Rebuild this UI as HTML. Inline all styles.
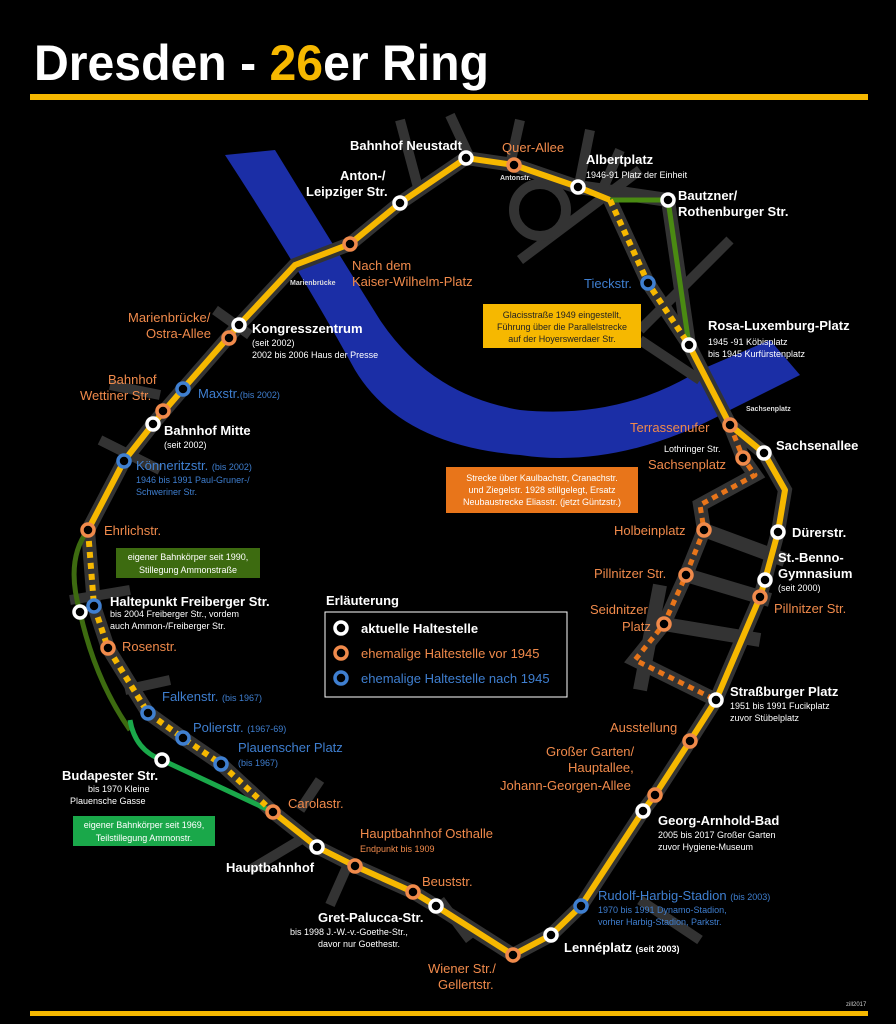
<!DOCTYPE html>
<html><head><meta charset="utf-8"><style>
html,body{margin:0;padding:0;background:#000;}
svg{display:block;font-family:"Liberation Sans",sans-serif;}
.w{fill:#fff;font-weight:bold;}
.o{fill:#f08a4b;}
.b{fill:#3f7fd0;}
.s{fill:#ddd;font-size:7px;font-weight:bold;}
</style></head><body>
<svg width="896" height="1024" viewBox="0 0 896 1024" xmlns="http://www.w3.org/2000/svg">
<rect width="896" height="1024" fill="#000"/>
<text x="34" y="80" font-size="50" font-weight="bold" fill="#fff" textLength="455" lengthAdjust="spacingAndGlyphs">Dresden - <tspan fill="#f6b800">26</tspan>er Ring</text>
<rect x="30" y="94" width="838" height="6" fill="#f6b800"/>
<rect x="30" y="1011" width="838" height="5" fill="#f6b800"/>
<text x="846" y="1006" font-size="6" fill="#ccc">zill2017</text>

<!-- river -->
<path d="M225,155 L275,150 Q330,240 380,320 Q430,395 520,410 Q620,420 700,370 L770,340 L800,375 L730,410 Q620,470 520,455 Q400,445 355,370 Q300,270 225,155 Z" fill="#1b2ea6"/>

<!-- streets -->
<g stroke="#333" stroke-width="14" fill="none" stroke-linecap="butt">
<path d="M466,158 L514,165 L578,187 L668,200 L689,345 L730,425 L764,453 L785,490 L778,532 L765,580 L760,597 L716,700 L690,741 L655,795 L643,811 L581,906 L551,935 L513,955 L436,906 L413,892 L355,866 L317,847 L273,812 L221,764 L183,738 L148,713 L108,648 L94,606 L88,530 L124,461 L153,424 L183,389 L239,325 L295,265 L350,244 L400,203 L466,158"/>
<path d="M610,200 L648,283 L689,345"/>
<path d="M730,425 L743,458 L755,475 L700,505 L704,530 L686,575 L664,624 L635,660 L716,700"/>
<path d="M704,530 L785,560 M686,575 L770,600 M664,624 L760,640 M660,585 L640,690"/>
</g>
<g stroke="#333" stroke-width="10">
<path d="M400,120 L420,195 M450,115 L470,158 M520,120 L510,165 M590,130 L578,190 M620,150 L600,195 M730,240 L640,330 M700,380 L640,340 M100,440 L160,470 M70,600 L130,590 M125,690 L170,680 M320,780 L300,810 M215,310 L250,335 M110,385 L160,395 M330,905 L350,860 M470,940 L440,900 M700,940 L640,900 M250,870 L300,840 M640,170 L520,260"/>
</g>
<circle cx="540" cy="210" r="26" fill="none" stroke="#333" stroke-width="10"/>

<!-- lines -->
<g fill="none" stroke-linejoin="round">
<path d="M273,812 L317,847 L355,866 L413,892 L436,906 L513,955 L551,935 L581,906 L643,811 L655,795 L690,741 L716,700 L760,597 L765,580 L778,532 L785,490 L764,453 L730,425 L689,345" stroke="#f6b800" stroke-width="6"/>
<path d="M88,530 L124,461 L153,424 L183,389 L239,325 L295,265 L350,244 L400,203 L466,158 L514,165 L578,187 L610,200" stroke="#f6b800" stroke-width="6"/>
<path d="M610,200 L668,200 L689,345" stroke="#4a8a12" stroke-width="5"/>
<path d="M610,200 L648,283 L689,345" stroke="#f6b800" stroke-width="6" stroke-dasharray="6,5"/>
<path d="M88,530 Q65,560 80,612 Q95,680 130,730" stroke="#3d6b10" stroke-width="5"/>
<path d="M130,720 Q135,750 162,760 L273,812" stroke="#1aa84a" stroke-width="5"/>
<path d="M88,530 L94,606 L108,648 L148,713 L183,738 L221,764 L273,812" stroke="#f6b800" stroke-width="6" stroke-dasharray="6,5"/>
<path d="M730,425 L743,458 L755,475 L700,505 L704,530 L686,575 L664,624 L635,660 L716,700" stroke="#e8751a" stroke-width="5" stroke-dasharray="6,5"/>
</g>

<!-- stations -->
<g stroke-width="3.5" fill="#000">
<g stroke="#fff">
<circle cx="466" cy="158" r="6"/><circle cx="578" cy="187" r="6"/><circle cx="400" cy="203" r="6"/><circle cx="668" cy="200" r="6"/>
<circle cx="689" cy="345" r="6"/><circle cx="239" cy="325" r="6"/><circle cx="153" cy="424" r="6"/><circle cx="764" cy="453" r="6"/>
<circle cx="778" cy="532" r="6"/><circle cx="765" cy="580" r="6"/><circle cx="80" cy="612" r="6"/><circle cx="716" cy="700" r="6"/>
<circle cx="162" cy="760" r="6"/><circle cx="643" cy="811" r="6"/><circle cx="317" cy="847" r="6"/><circle cx="436" cy="906" r="6"/>
<circle cx="551" cy="935" r="6"/>
</g>
<g stroke="#f08a4b">
<circle cx="514" cy="165" r="6"/><circle cx="350" cy="244" r="6"/><circle cx="229" cy="338" r="6"/><circle cx="163" cy="411" r="6"/>
<circle cx="88" cy="530" r="6"/><circle cx="730" cy="425" r="6"/><circle cx="743" cy="458" r="6"/><circle cx="704" cy="530" r="6"/>
<circle cx="686" cy="575" r="6"/><circle cx="760" cy="597" r="6"/><circle cx="664" cy="624" r="6"/><circle cx="108" cy="648" r="6"/>
<circle cx="690" cy="741" r="6"/><circle cx="655" cy="795" r="6"/><circle cx="273" cy="812" r="6"/><circle cx="355" cy="866" r="6"/>
<circle cx="413" cy="892" r="6"/><circle cx="513" cy="955" r="6"/>
</g>
<g stroke="#3f7fd0">
<circle cx="648" cy="283" r="6"/><circle cx="183" cy="389" r="6"/><circle cx="124" cy="461" r="6"/><circle cx="94" cy="606" r="6"/>
<circle cx="148" cy="713" r="6"/><circle cx="183" cy="738" r="6"/><circle cx="221" cy="764" r="6"/><circle cx="581" cy="906" r="6"/>
</g>
</g>

<!-- labels -->
<g font-size="13">
<text x="350" y="150" class="w">Bahnhof Neustadt</text>
<text x="502" y="152" class="o">Quer-Allee</text>
<text x="586" y="164" class="w">Albertplatz</text>
<text x="586" y="178" font-size="9" fill="#fff">1946-91 Platz der Einheit</text>
<text x="678" y="200" class="w">Bautzner/</text>
<text x="678" y="216" class="w">Rothenburger Str.</text>
<text x="340" y="180" class="w">Anton-/</text>
<text x="306" y="196" class="w">Leipziger Str.</text>
<text x="352" y="270" class="o">Nach dem</text>
<text x="352" y="286" class="o">Kaiser-Wilhelm-Platz</text>
<text x="584" y="288" class="b">Tieckstr.</text>
<text x="708" y="330" class="w">Rosa-Luxemburg-Platz</text>
<text x="708" y="345" font-size="9" fill="#fff">1945 -91 Köbisplatz</text>
<text x="708" y="357" font-size="9" fill="#fff">bis 1945 Kurfürstenplatz</text>
<text x="128" y="322" class="o">Marienbrücke/</text>
<text x="146" y="338" class="o">Ostra-Allee</text>
<text x="252" y="333" class="w">Kongresszentrum</text>
<text x="252" y="346" font-size="9" fill="#fff">(seit 2002)</text>
<text x="252" y="358" font-size="9" fill="#fff">2002 bis 2006 Haus der Presse</text>
<text x="108" y="384" class="o">Bahnhof</text>
<text x="80" y="400" class="o">Wettiner Str.</text>
<text x="198" y="398" class="b">Maxstr.<tspan font-size="9">(bis 2002)</tspan></text>
<text x="164" y="435" class="w">Bahnhof Mitte</text>
<text x="164" y="448" font-size="9" fill="#fff">(seit 2002)</text>
<text x="136" y="470" class="b">Könneritzstr. <tspan font-size="9">(bis 2002)</tspan></text>
<text x="136" y="483" font-size="9" fill="#3f7fd0">1946 bis 1991 Paul-Gruner-/</text>
<text x="136" y="495" font-size="9" fill="#3f7fd0">Schweriner Str.</text>
<text x="104" y="535" class="o">Ehrlichstr.</text>
<text x="110" y="606" class="w">Haltepunkt Freiberger Str.</text>
<text x="110" y="617" font-size="9" fill="#fff">bis 2004 Freiberger Str., vordem</text>
<text x="110" y="629" font-size="9" fill="#fff">auch Ammon-/Freiberger Str.</text>
<text x="122" y="651" class="o">Rosenstr.</text>
<text x="162" y="701" class="b">Falkenstr. <tspan font-size="9">(bis 1967)</tspan></text>
<text x="193" y="732" class="b">Polierstr. <tspan font-size="9">(1967-69)</tspan></text>
<text x="238" y="752" class="b">Plauenscher Platz</text>
<text x="238" y="766" font-size="9" fill="#3f7fd0">(bis 1967)</text>
<text x="62" y="780" class="w">Budapester Str.</text>
<text x="88" y="792" font-size="9" fill="#fff">bis 1970 Kleine</text>
<text x="70" y="804" font-size="9" fill="#fff">Plauensche Gasse</text>
<text x="288" y="808" class="o">Carolastr.</text>
<text x="226" y="872" class="w">Hauptbahnhof</text>
<text x="360" y="838" class="o">Hauptbahnhof Osthalle</text>
<text x="360" y="852" font-size="9" fill="#f08a4b">Endpunkt bis 1909</text>
<text x="422" y="886" class="o">Beuststr.</text>
<text x="318" y="922" class="w">Gret-Palucca-Str.</text>
<text x="290" y="935" font-size="9" fill="#fff">bis 1998 J.-W.-v.-Goethe-Str.,</text>
<text x="318" y="947" font-size="9" fill="#fff">davor nur Goethestr.</text>
<text x="428" y="973" class="o">Wiener Str./</text>
<text x="438" y="989" class="o">Gellertstr.</text>
<text x="564" y="952" class="w">Lennéplatz <tspan font-size="9">(seit 2003)</tspan></text>
<text x="598" y="900" class="b">Rudolf-Harbig-Stadion <tspan font-size="9">(bis 2003)</tspan></text>
<text x="598" y="913" font-size="9" fill="#3f7fd0">1970 bis 1991 Dynamo-Stadion,</text>
<text x="598" y="925" font-size="9" fill="#3f7fd0">vorher Harbig-Stadion, Parkstr.</text>
<text x="658" y="825" class="w">Georg-Arnhold-Bad</text>
<text x="658" y="838" font-size="9" fill="#fff">2005 bis 2017 Großer Garten</text>
<text x="658" y="850" font-size="9" fill="#fff">zuvor Hygiene-Museum</text>
<text x="546" y="756" class="o">Großer Garten/</text>
<text x="568" y="772" class="o">Hauptallee,</text>
<text x="500" y="790" class="o">Johann-Georgen-Allee</text>
<text x="610" y="732" class="o">Ausstellung</text>
<text x="730" y="696" class="w">Straßburger Platz</text>
<text x="730" y="709" font-size="9" fill="#fff">1951 bis 1991 Fucikplatz</text>
<text x="730" y="721" font-size="9" fill="#fff">zuvor Stübelplatz</text>
<text x="590" y="614" class="o">Seidnitzer</text>
<text x="622" y="631" class="o">Platz</text>
<text x="594" y="578" class="o">Pillnitzer Str.</text>
<text x="774" y="613" class="o">Pillnitzer Str.</text>
<text x="778" y="562" class="w">St.-Benno-</text>
<text x="778" y="578" class="w">Gymnasium</text>
<text x="778" y="591" font-size="9" fill="#fff">(seit 2000)</text>
<text x="614" y="535" class="o">Holbeinplatz</text>
<text x="792" y="537" class="w">Dürerstr.</text>
<text x="776" y="450" class="w">Sachsenallee</text>
<text x="630" y="432" class="o">Terrassenufer</text>
<text x="664" y="452" font-size="9" fill="#fff">Lothringer Str.</text>
<text x="648" y="469" class="o">Sachsenplatz</text>
</g>
<g class="s">
<text x="746" y="411">Sachsenplatz</text>
<text x="500" y="180">Antonstr.</text>
<text x="290" y="285">Marienbrücke</text>
</g>

<!-- notes -->
<rect x="483" y="304" width="158" height="44" fill="#f6b800"/>
<g font-size="9" fill="#222" text-anchor="middle"><text x="562" y="318">Glacisstraße 1949 eingestellt,</text><text x="562" y="330">Führung über die Parallelstrecke</text><text x="562" y="342">auf der Hoyerswerdaer Str.</text></g>
<rect x="446" y="467" width="192" height="46" fill="#e8751a"/>
<g font-size="9" fill="#fff" text-anchor="middle"><text x="542" y="481">Strecke über Kaulbachstr, Cranachstr.</text><text x="542" y="493">und Ziegelstr. 1928 stillgelegt, Ersatz</text><text x="542" y="505">Neubaustrecke Eliasstr. (jetzt Güntzstr.)</text></g>
<rect x="116" y="548" width="144" height="30" fill="#3d6b10"/>
<g font-size="9" fill="#fff" text-anchor="middle"><text x="188" y="560">eigener Bahnkörper seit 1990,</text><text x="188" y="573">Stillegung Ammonstraße</text></g>
<rect x="73" y="816" width="142" height="30" fill="#1aa84a"/>
<g font-size="9" fill="#fff" text-anchor="middle"><text x="144" y="828">eigener Bahnkörper seit 1969,</text><text x="144" y="841">Teilstillegung Ammonstr.</text></g>

<!-- legend -->
<text x="326" y="605" font-size="13" class="w">Erläuterung</text>
<rect x="325" y="612" width="242" height="85" fill="#000" stroke="#fff" stroke-width="1"/>
<g stroke-width="3.5" fill="#000"><circle cx="341" cy="628" r="6" stroke="#fff"/><circle cx="341" cy="653" r="6" stroke="#f08a4b"/><circle cx="341" cy="678" r="6" stroke="#3f7fd0"/></g>
<text x="361" y="633" font-size="13" class="w">aktuelle Haltestelle</text>
<text x="361" y="658" font-size="13" class="o">ehemalige Haltestelle vor 1945</text>
<text x="361" y="683" font-size="13" class="b">ehemalige Haltestelle nach 1945</text>
</svg>
</body></html>
